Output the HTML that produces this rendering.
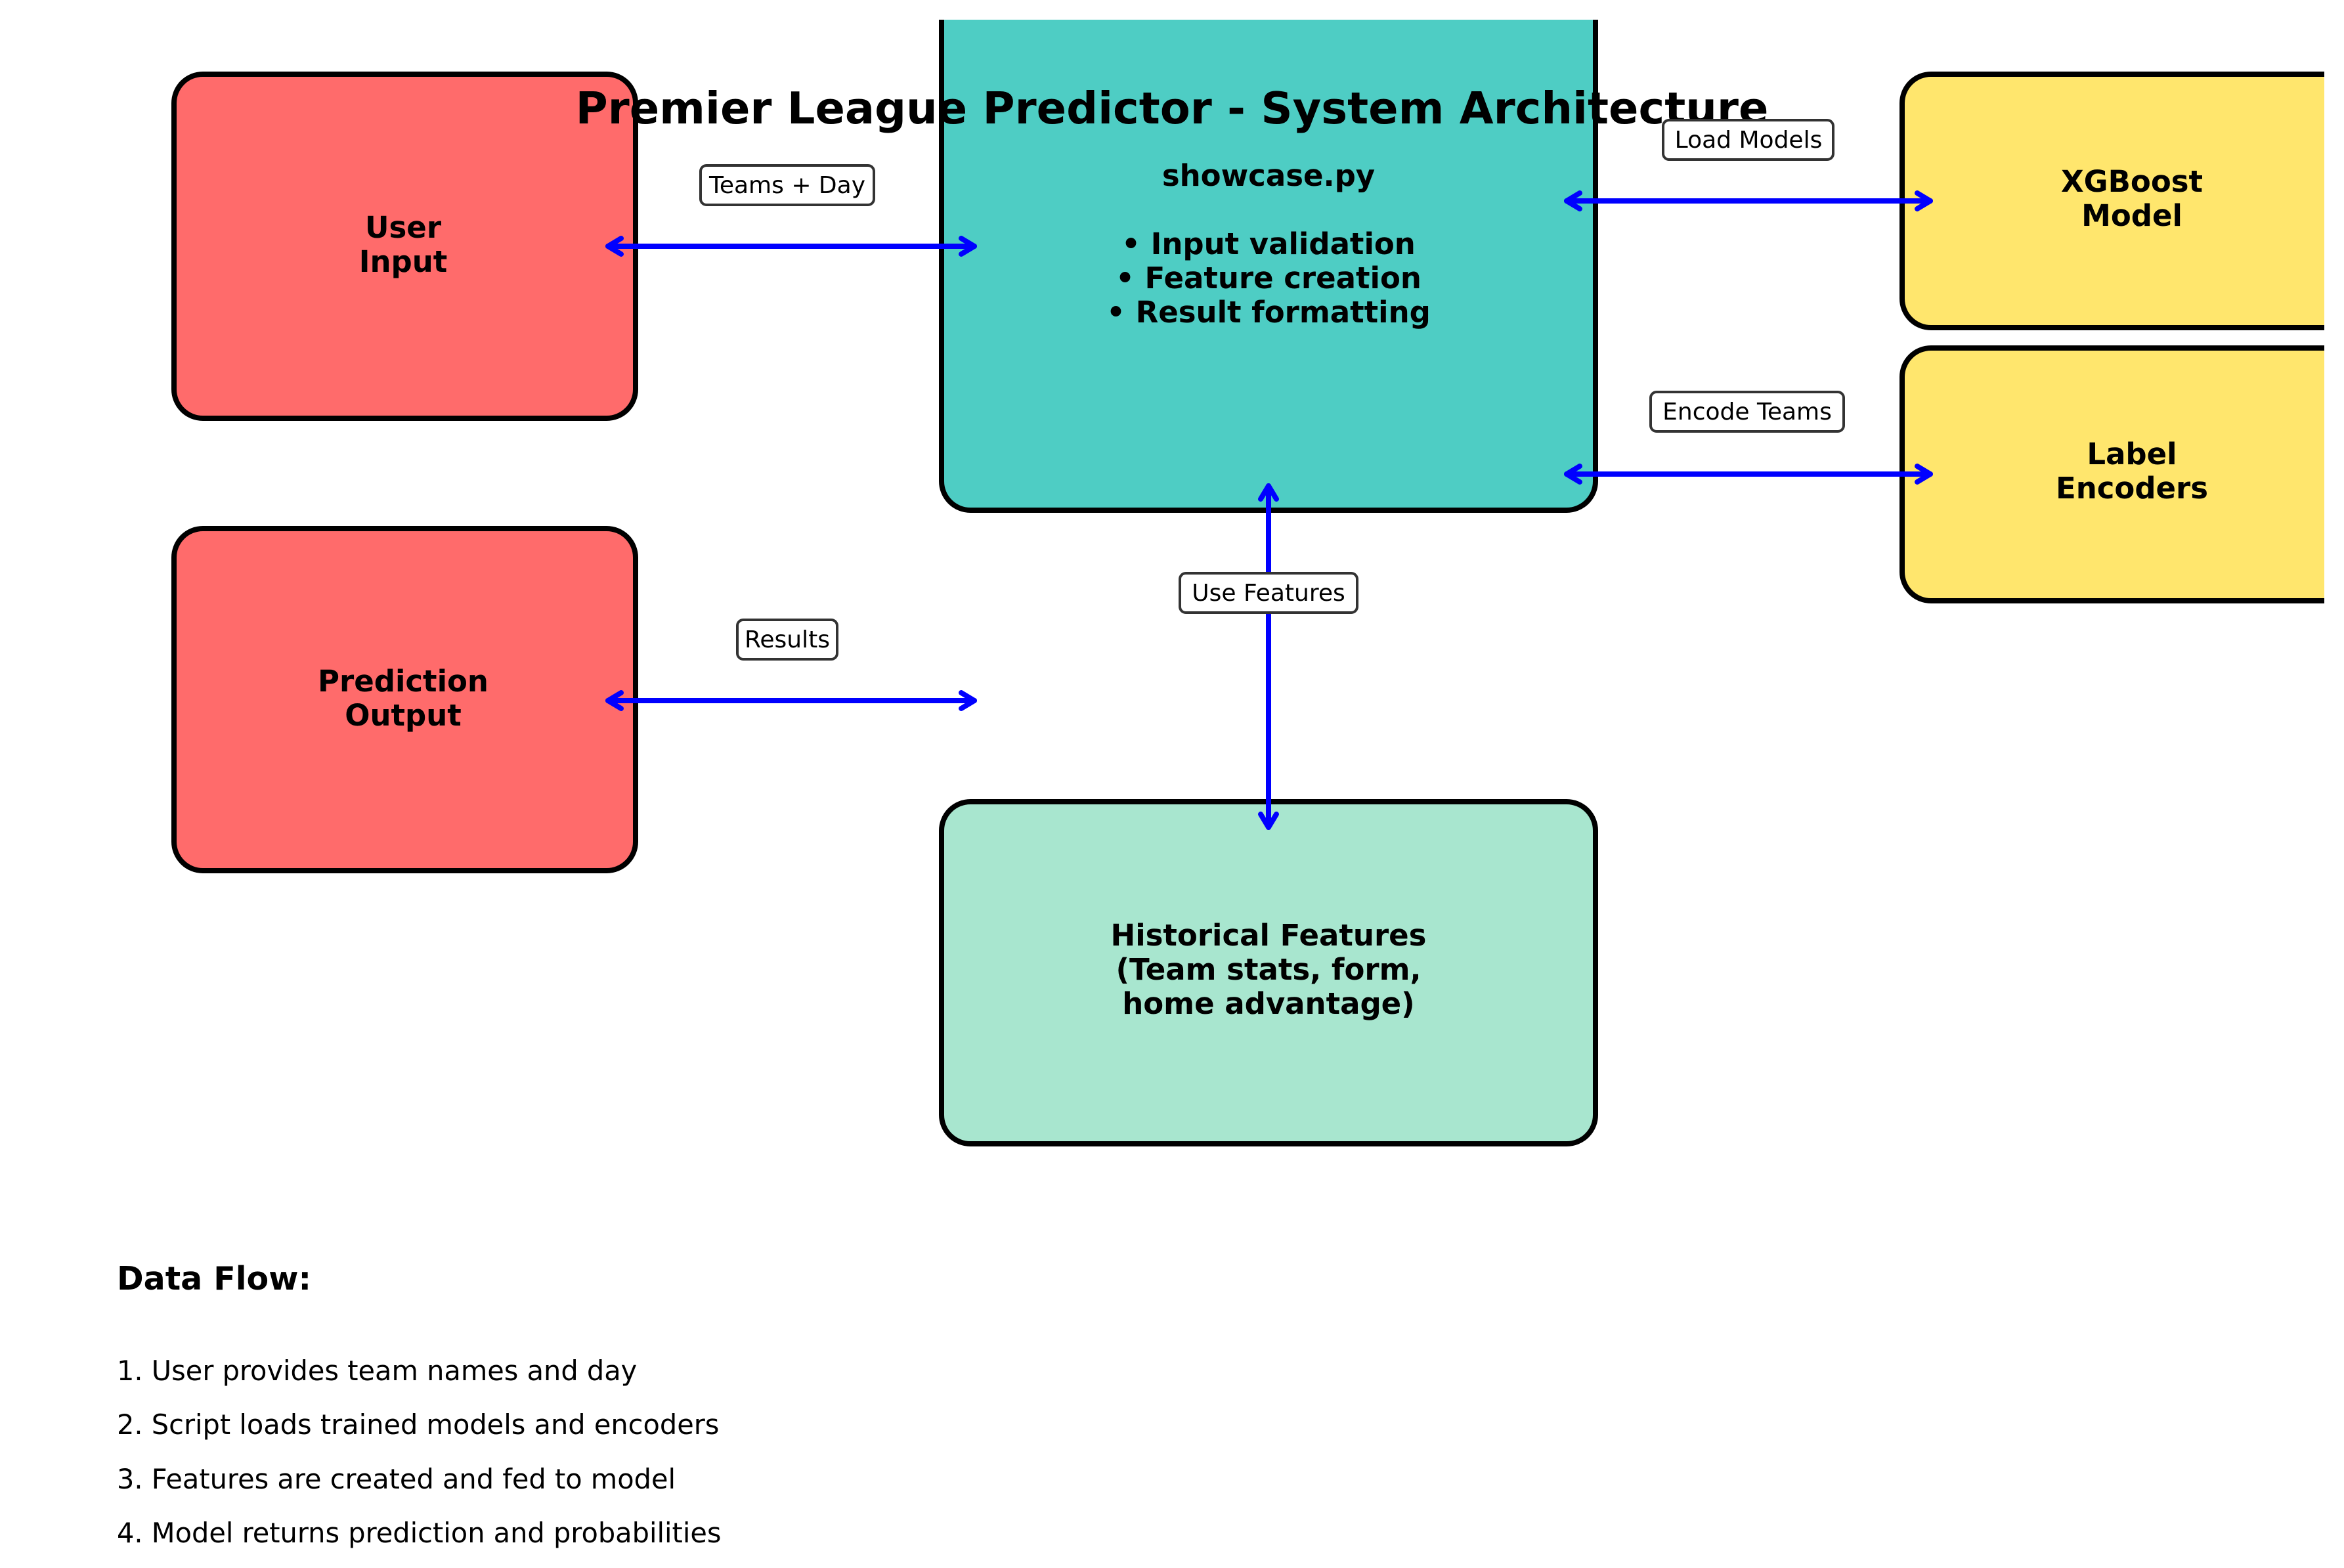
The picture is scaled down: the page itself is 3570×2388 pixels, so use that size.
<!DOCTYPE html>
<html><head><meta charset="utf-8"><style>
html,body{margin:0;padding:0;background:#fff;}
svg{display:block;}
text{font-family:"DejaVu Sans","Liberation Sans",sans-serif;}
</style></head><body>
<svg width="3570" height="2388" viewBox="0 0 3570 2388" xmlns="http://www.w3.org/2000/svg">
<defs>
<clipPath id="c"><rect x="0" y="30" width="3540" height="2358"/></clipPath>
</defs>
<rect width="3570" height="2388" fill="#fff"/>
<g clip-path="url(#c)" stroke="#000" stroke-width="8">
<rect x="265" y="113" width="703" height="524" rx="44" fill="#FF6B6B"/>
<rect x="265" y="805" width="703" height="521" rx="44" fill="#FF6B6B"/>
<rect x="1434" y="-60" width="996" height="837" rx="44" fill="#4ECDC4"/>
<rect x="2897" y="113" width="800" height="386" rx="44" fill="#FFE66D"/>
<rect x="2897" y="530" width="800" height="385" rx="44" fill="#FFE66D"/>
<rect x="1434" y="1221" width="996" height="521" rx="44" fill="#A8E6CF"/>
</g>
<g font-weight="bold" font-size="45" text-anchor="middle" fill="#000">
<text x="614" y="362">User</text><text x="614" y="414">Input</text>
<text x="614" y="1053">Prediction</text><text x="614" y="1105">Output</text>
<text x="3247" y="292">XGBoost</text><text x="3247" y="344">Model</text>
<text x="3247" y="707">Label</text><text x="3247" y="759">Encoders</text>
<text x="1932" y="1440">Historical Features</text>
<text x="1932" y="1492">(Team stats, form,</text>
<text x="1932" y="1544">home advantage)</text>
<text x="1932" y="283">showcase.py</text>
<text x="1932" y="387">• Input validation</text>
<text x="1932" y="439">• Feature creation</text>
<text x="1932" y="491">• Result formatting</text>
</g>
<g stroke="#0000FF" stroke-width="8" fill="none" stroke-linecap="round" stroke-linejoin="round">
<line x1="926" y1="375" x2="1484" y2="375"/>
<polyline points="946,363 926,375 946,387"/><polyline points="1464,363 1484,375 1464,387"/>
<line x1="926" y1="1067" x2="1484" y2="1067"/>
<polyline points="946,1055 926,1067 946,1079"/><polyline points="1464,1055 1484,1067 1464,1079"/>
<line x1="2386" y1="306" x2="2940" y2="306"/>
<polyline points="2406,294 2386,306 2406,318"/><polyline points="2920,294 2940,306 2920,318"/>
<line x1="2386" y1="722" x2="2940" y2="722"/>
<polyline points="2406,710 2386,722 2406,734"/><polyline points="2920,710 2940,722 2920,734"/>
<line x1="1932" y1="740" x2="1932" y2="1260"/>
<polyline points="1920,760 1932,740 1944,760"/><polyline points="1920,1240 1932,1260 1944,1240"/>
</g>
<text x="1785" y="188" font-size="67" font-weight="bold" text-anchor="middle">Premier League Predictor - System Architecture</text>
<g font-size="36" text-anchor="middle">
<rect x="1067" y="252" width="264" height="60" rx="9" fill="#fff" stroke="#333" stroke-width="4"/>
<text x="1199" y="294">Teams + Day</text>
<rect x="1123" y="944" width="152" height="60" rx="9" fill="#fff" stroke="#333" stroke-width="4"/>
<text x="1199" y="986">Results</text>
<rect x="2533" y="183" width="259" height="60" rx="9" fill="#fff" stroke="#333" stroke-width="4"/>
<text x="2663" y="225">Load Models</text>
<rect x="2514" y="597" width="294" height="60" rx="9" fill="#fff" stroke="#333" stroke-width="4"/>
<text x="2661" y="639">Encode Teams</text>
<rect x="1797" y="873" width="270" height="60" rx="9" fill="#fff" stroke="#333" stroke-width="4"/>
<text x="1932" y="915">Use Features</text>
</g>
<text x="178" y="1964" font-size="49" font-weight="bold">Data Flow:</text>
<g font-size="41.5">
<text x="178" y="2102">1. User provides team names and day</text>
<text x="178" y="2184">2. Script loads trained models and encoders</text>
<text x="178" y="2267">3. Features are created and fed to model</text>
<text x="178" y="2349">4. Model returns prediction and probabilities</text>
</g>
</svg>
</body></html>
